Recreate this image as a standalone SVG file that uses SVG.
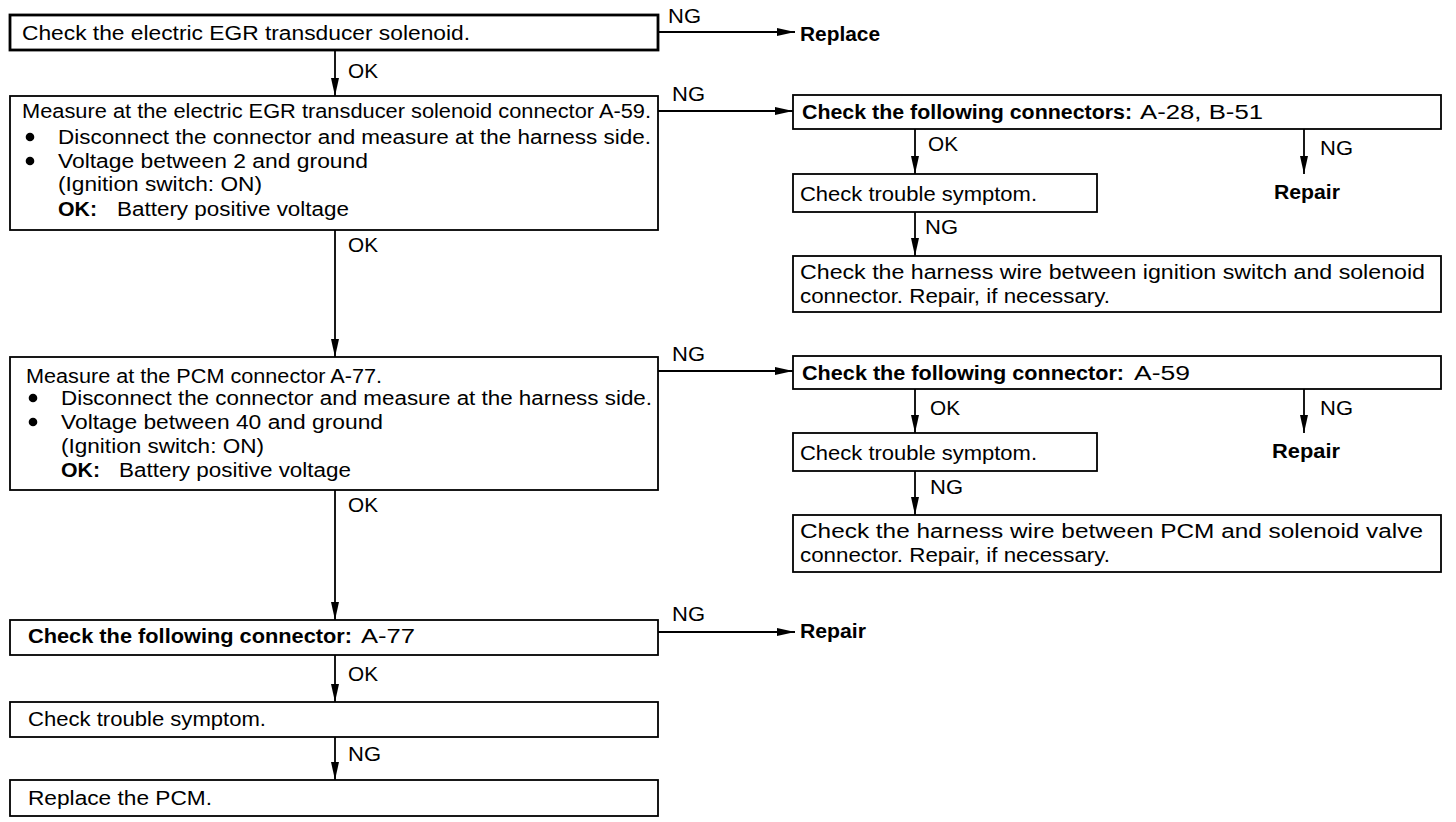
<svg xmlns="http://www.w3.org/2000/svg" width="1456" height="822" viewBox="0 0 1456 822">
<defs>
<style>
.box{fill:#fff;stroke:#000;stroke-width:1.8}
.thick{stroke-width:2.8}
.t{font-family:"Liberation Sans",Arial,sans-serif;font-size:20px;fill:#000}
.b{font-weight:bold}
.c{stroke:#000;stroke-width:1.8;fill:none}
</style>
<marker id="ah" viewBox="0 0 18 8" refX="18" refY="4" markerWidth="18" markerHeight="8" markerUnits="userSpaceOnUse" orient="auto">
<path d="M0,0 L18,4 L0,8 Z" fill="#000"/>
</marker>
</defs>
<rect width="1456" height="822" fill="#fff"/>

<g id="connectors">
<line class="c" x1="658" y1="32" x2="795" y2="32" marker-end="url(#ah)"/>
<line class="c" x1="335" y1="50" x2="335" y2="96" marker-end="url(#ah)"/>
<line class="c" x1="658" y1="111" x2="793" y2="111" marker-end="url(#ah)"/>
<line class="c" x1="915" y1="129" x2="915" y2="174" marker-end="url(#ah)"/>
<line class="c" x1="1304" y1="129" x2="1304" y2="174" marker-end="url(#ah)"/>
<line class="c" x1="915" y1="212" x2="915" y2="256" marker-end="url(#ah)"/>
<line class="c" x1="335" y1="230" x2="335" y2="357" marker-end="url(#ah)"/>
<line class="c" x1="658" y1="371" x2="793" y2="371" marker-end="url(#ah)"/>
<line class="c" x1="915" y1="389" x2="915" y2="433" marker-end="url(#ah)"/>
<line class="c" x1="1304" y1="389" x2="1304" y2="433" marker-end="url(#ah)"/>
<line class="c" x1="915" y1="471" x2="915" y2="515" marker-end="url(#ah)"/>
<line class="c" x1="335" y1="490" x2="335" y2="620" marker-end="url(#ah)"/>
<line class="c" x1="658" y1="632" x2="795" y2="632" marker-end="url(#ah)"/>
<line class="c" x1="335" y1="655" x2="335" y2="702" marker-end="url(#ah)"/>
<line class="c" x1="335" y1="737" x2="335" y2="780" marker-end="url(#ah)"/>
<text class="t" x="668" y="23" textLength="33" lengthAdjust="spacingAndGlyphs">NG</text>
<text class="t" x="348" y="78" textLength="30" lengthAdjust="spacingAndGlyphs">OK</text>
<text class="t" x="672" y="101" textLength="33" lengthAdjust="spacingAndGlyphs">NG</text>
<text class="t" x="928" y="151" textLength="30" lengthAdjust="spacingAndGlyphs">OK</text>
<text class="t" x="1320" y="155" textLength="33" lengthAdjust="spacingAndGlyphs">NG</text>
<text class="t" x="925" y="234" textLength="33" lengthAdjust="spacingAndGlyphs">NG</text>
<text class="t" x="348" y="252" textLength="30" lengthAdjust="spacingAndGlyphs">OK</text>
<text class="t" x="672" y="361" textLength="33" lengthAdjust="spacingAndGlyphs">NG</text>
<text class="t" x="930" y="415" textLength="30" lengthAdjust="spacingAndGlyphs">OK</text>
<text class="t" x="1320" y="415" textLength="33" lengthAdjust="spacingAndGlyphs">NG</text>
<text class="t" x="930" y="494" textLength="33" lengthAdjust="spacingAndGlyphs">NG</text>
<text class="t" x="348" y="512" textLength="30" lengthAdjust="spacingAndGlyphs">OK</text>
<text class="t" x="672" y="621" textLength="33" lengthAdjust="spacingAndGlyphs">NG</text>
<text class="t" x="348" y="681" textLength="30" lengthAdjust="spacingAndGlyphs">OK</text>
<text class="t" x="348" y="761" textLength="33" lengthAdjust="spacingAndGlyphs">NG</text>
</g>

<g id="n1">
<rect class="box thick" x="10" y="15" width="648" height="35"/>
<text class="t" x="22" y="40" textLength="448" lengthAdjust="spacingAndGlyphs">Check the electric EGR transducer solenoid.</text>
</g>
<g id="replace1">
<text class="t b" x="800" y="41" textLength="80" lengthAdjust="spacingAndGlyphs">Replace</text>
</g>

<g id="n2">
<rect class="box" x="10" y="96" width="648" height="134"/>
<text class="t" x="22" y="118" textLength="629" lengthAdjust="spacingAndGlyphs">Measure at the electric EGR transducer solenoid connector A-59.</text>
<circle cx="30" cy="137" r="4.3"/>
<text class="t" x="58" y="144" textLength="593" lengthAdjust="spacingAndGlyphs">Disconnect the connector and measure at the harness side.</text>
<circle cx="30" cy="161" r="4.3"/>
<text class="t" x="58" y="168" textLength="310" lengthAdjust="spacingAndGlyphs">Voltage between 2 and ground</text>
<text class="t" x="58" y="191" textLength="204" lengthAdjust="spacingAndGlyphs">(Ignition switch: ON)</text>
<text class="t b" x="58" y="216" textLength="39" lengthAdjust="spacingAndGlyphs">OK:</text>
<text class="t" x="117" y="216" textLength="232" lengthAdjust="spacingAndGlyphs">Battery positive voltage</text>
</g>

<g id="n3">
<rect class="box" x="793" y="95" width="648" height="34"/>
<text class="t b" x="802" y="119" textLength="330" lengthAdjust="spacingAndGlyphs">Check the following connectors:</text>
<text class="t" x="1140" y="119" textLength="123" lengthAdjust="spacingAndGlyphs">A-28, B-51</text>
</g>
<g id="repair1">
<text class="t b" x="1274" y="199" textLength="66" lengthAdjust="spacingAndGlyphs">Repair</text>
</g>
<g id="n4">
<rect class="box" x="793" y="174" width="304" height="38"/>
<text class="t" x="800" y="201" textLength="237" lengthAdjust="spacingAndGlyphs">Check trouble symptom.</text>
</g>
<g id="n5">
<rect class="box" x="793" y="256" width="648" height="56"/>
<text class="t" x="800" y="279" textLength="625" lengthAdjust="spacingAndGlyphs">Check the harness wire between ignition switch and solenoid</text>
<text class="t" x="800" y="303" textLength="310" lengthAdjust="spacingAndGlyphs">connector. Repair, if necessary.</text>
</g>

<g id="n6">
<rect class="box" x="10" y="357" width="648" height="133"/>
<text class="t" x="26" y="383" textLength="356" lengthAdjust="spacingAndGlyphs">Measure at the PCM connector A-77.</text>
<circle cx="33" cy="398" r="4.3"/>
<text class="t" x="61" y="405" textLength="591" lengthAdjust="spacingAndGlyphs">Disconnect the connector and measure at the harness side.</text>
<circle cx="33" cy="422" r="4.3"/>
<text class="t" x="61" y="429" textLength="322" lengthAdjust="spacingAndGlyphs">Voltage between 40 and ground</text>
<text class="t" x="61" y="453" textLength="203" lengthAdjust="spacingAndGlyphs">(Ignition switch: ON)</text>
<text class="t b" x="61" y="477" textLength="39" lengthAdjust="spacingAndGlyphs">OK:</text>
<text class="t" x="119" y="477" textLength="232" lengthAdjust="spacingAndGlyphs">Battery positive voltage</text>
</g>

<g id="n7">
<rect class="box" x="793" y="356" width="648" height="33"/>
<text class="t b" x="802" y="380" textLength="322" lengthAdjust="spacingAndGlyphs">Check the following connector:</text>
<text class="t" x="1134" y="380" textLength="56" lengthAdjust="spacingAndGlyphs">A-59</text>
</g>
<g id="repair2">
<text class="t b" x="1272" y="458" textLength="68" lengthAdjust="spacingAndGlyphs">Repair</text>
</g>
<g id="n8">
<rect class="box" x="793" y="433" width="304" height="38"/>
<text class="t" x="800" y="460" textLength="237" lengthAdjust="spacingAndGlyphs">Check trouble symptom.</text>
</g>
<g id="n9">
<rect class="box" x="793" y="515" width="648" height="57"/>
<text class="t" x="800" y="538" textLength="623" lengthAdjust="spacingAndGlyphs">Check the harness wire between PCM and solenoid valve</text>
<text class="t" x="800" y="562" textLength="310" lengthAdjust="spacingAndGlyphs">connector. Repair, if necessary.</text>
</g>

<g id="n10">
<rect class="box" x="10" y="620" width="648" height="35"/>
<text class="t b" x="28" y="643" textLength="324" lengthAdjust="spacingAndGlyphs">Check the following connector:</text>
<text class="t" x="361" y="643" textLength="54" lengthAdjust="spacingAndGlyphs">A-77</text>
</g>
<g id="repair3">
<text class="t b" x="800" y="638" textLength="66" lengthAdjust="spacingAndGlyphs">Repair</text>
</g>
<g id="n11">
<rect class="box" x="10" y="702" width="648" height="35"/>
<text class="t" x="28" y="726" textLength="238" lengthAdjust="spacingAndGlyphs">Check trouble symptom.</text>
</g>
<g id="n12">
<rect class="box" x="10" y="780" width="648" height="36"/>
<text class="t" x="28" y="805" textLength="184" lengthAdjust="spacingAndGlyphs">Replace the PCM.</text>
</g>
</svg>
